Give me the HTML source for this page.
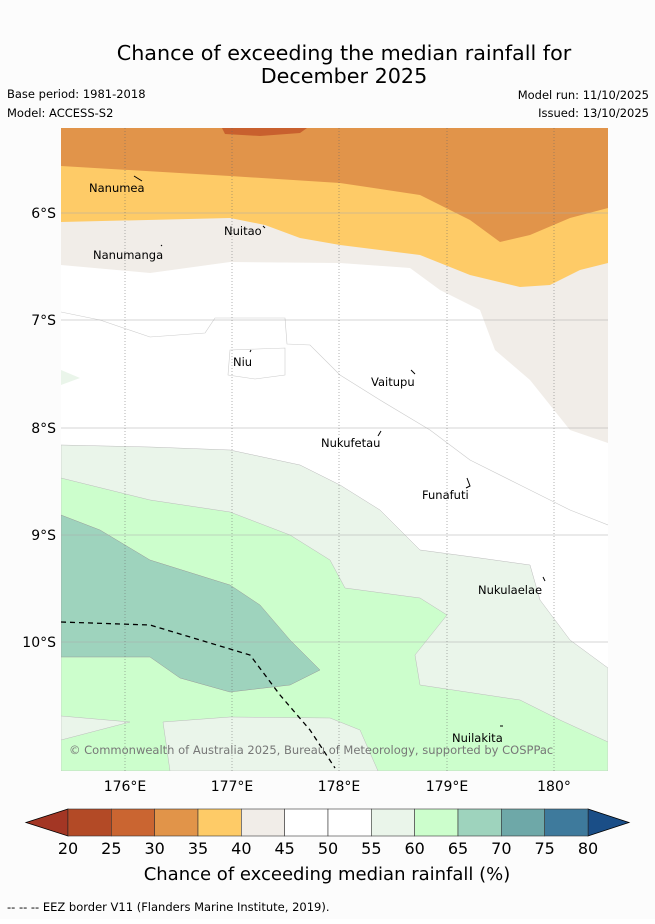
<!DOCTYPE html>
<html><head><meta charset="utf-8"><style>
body{margin:0;background:#fff;}
svg text{font-family:"DejaVu Sans","Liberation Sans",sans-serif;}
</style></head><body>
<svg width="655" height="919" viewBox="0 0 655 919" xmlns="http://www.w3.org/2000/svg">
<rect width="655" height="919" fill="#fcfcfc"/>
<text x="344" y="60" font-size="20.7" text-anchor="middle">Chance of exceeding the median rainfall for</text>
<text x="344" y="83" font-size="20.7" text-anchor="middle">December 2025</text>
<text x="7" y="98" font-size="11.5">Base period: 1981-2018</text>
<text x="7" y="117" font-size="11.5">Model: ACCESS-S2</text>
<text x="649" y="99" font-size="11.5" text-anchor="end">Model run: 11/10/2025</text>
<text x="649" y="117" font-size="11.5" text-anchor="end">Issued: 13/10/2025</text>
<defs><clipPath id="mc"><rect x="61" y="128" width="547" height="643"/></clipPath></defs>
<g clip-path="url(#mc)">
<rect x="61" y="128" width="547" height="643" fill="#e1944a"/>
<path d="M61,166 L230,176 L340,183 L420,195 L470,220 L500,242 L530,235 L570,218 L608,208 L608,771 L61,771Z" fill="#fecb67"/>
<path d="M61,222 L230,218 L265,225 L300,238 L340,245 L420,255 L470,275 L520,287 L550,285 L580,270 L608,263 L608,771 L61,771Z" fill="#f1ede8"/>
<path d="M61,265 L150,273 L230,262 L340,263 L410,268 L440,290 L480,310 L495,350 L530,380 L570,430 L608,443 L608,771 L61,771Z" fill="#ffffff"/>
<path d="M61,370 L80,378 L61,385Z" fill="#eaf5ea"/>
<path d="M61,312 L100,320 L150,337 L205,333 L215,318 L285,318 L287,344 L310,345 L340,375 L380,400 L430,430 L470,460 L520,485 L570,510 L608,525" fill="none" stroke="#ccc" stroke-width="0.6"/>
<path d="M230,350 L285,348 L285,375 L255,379 L228,375Z" fill="none" stroke="#ccc" stroke-width="0.6"/>
<path d="M61,445 L150,447 L230,450 L300,465 L340,485 L380,510 L420,550 L480,558 L530,565 L540,600 L570,640 L608,668 L608,771 L61,771Z" fill="#eaf5ea" stroke="#bbb" stroke-width="0.5"/>
<path d="M61,478 L150,500 L230,512 L290,535 L330,560 L345,588 L420,598 L447,615 L415,655 L420,685 L520,700 L560,720 L608,742 L608,771 L61,771Z" fill="#ccfecc" stroke="#bbb" stroke-width="0.5"/>
<path d="M61,515 L100,530 L150,560 L230,585 L260,605 L290,640 L320,670 L290,685 L230,692 L180,678 L150,657 L61,657Z" fill="#9ed3bd" stroke="#999" stroke-width="0.5"/>
<path d="M61,716 L130,722 L61,740Z" fill="#eaf5ea" stroke="#bbb" stroke-width="0.5"/>
<path d="M163,722 L230,717 L330,718 L360,730 L378,771 L170,771Z" fill="#eaf5ea" stroke="#bbb" stroke-width="0.5"/>
<path d="M222,128 L307,128 L300,133 L260,136 L225,134Z" fill="#c8602e"/>
<g stroke="#aaa" stroke-width="0.5">
<line x1="61" x2="608" y1="213" y2="213"/><line x1="61" x2="608" y1="320" y2="320"/><line x1="61" x2="608" y1="428" y2="428"/><line x1="61" x2="608" y1="535" y2="535"/><line x1="61" x2="608" y1="642" y2="642"/>
<g stroke-dasharray="1,2" stroke="#666"><line x1="125" x2="125" y1="128" y2="771"/><line x1="232" x2="232" y1="128" y2="771"/><line x1="339" x2="339" y1="128" y2="771"/><line x1="447" x2="447" y1="128" y2="771"/><line x1="554" x2="554" y1="128" y2="771"/></g>
</g>
<path d="M61,622 L150,625 L200,640 L250,655 L280,695 L310,730 L335,768" fill="none" stroke="#000" stroke-width="1.3" stroke-dasharray="5,4"/>
<g font-size="11.5">
<text x="89" y="192">Nanumea</text><text x="93" y="259">Nanumanga</text><text x="224" y="235">Nuitao</text><text x="233" y="366">Niu</text><text x="371" y="386">Vaitupu</text><text x="321" y="447">Nukufetau</text><text x="422" y="499">Funafuti</text><text x="478" y="594">Nukulaelae</text><text x="452" y="742">Nuilakita</text>
</g>
<g stroke="#000" stroke-width="1" fill="none"><path d="M134,176 L142,181"/><path d="M161,246 L162,245"/><path d="M263,226 L265,228"/><path d="M250,352 L251,350"/><path d="M411,370 L415,374"/><path d="M378,436 L381,431"/><path d="M467,478 L470,486 L466,488"/><path d="M543,577 L545,581"/><path d="M500,726 L503,726"/></g>
<text x="69" y="754" font-size="11.5" fill="#777">© Commonwealth of Australia 2025, Bureau of Meteorology, supported by COSPPac</text>
</g>
<g font-size="14">
<text x="56" y="218" text-anchor="end">6°S</text><text x="56" y="325" text-anchor="end">7°S</text><text x="56" y="433" text-anchor="end">8°S</text><text x="56" y="540" text-anchor="end">9°S</text><text x="56" y="647" text-anchor="end">10°S</text>
<text x="125" y="791" text-anchor="middle">176°E</text><text x="232" y="791" text-anchor="middle">177°E</text><text x="339" y="791" text-anchor="middle">178°E</text><text x="447" y="791" text-anchor="middle">179°E</text><text x="554" y="791" text-anchor="middle">180°</text>
</g>
<g id="cbar"></g>
<text x="327" y="880" font-size="18" text-anchor="middle">Chance of exceeding median rainfall (%)</text>
<text x="7" y="911" font-size="11.5">--  --  -- EEZ border V11 (Flanders Marine Institute, 2019).</text>
</svg>
<script>
const cbLevels=[20,25,30,35,40,45,50,55,60,65,70,75,80];
const cbColors=["#b34a26","#ca6531","#e19449","#fecb67","#f1ede8","#ffffff","#ffffff","#eaf5ea","#ccfecc","#9ed3bd","#6ea8a8","#3e7a9c"];
const cbUnder="#a33624", cbOver="#1a4e87";
const NS="http://www.w3.org/2000/svg";
const g=document.getElementById('cbar');
const x0=68,x1=588,y0=809,y1=836;
const sx=v=>x0+(v-cbLevels[0])/(cbLevels[cbLevels.length-1]-cbLevels[0])*(x1-x0);
function mk(t,a){const e=document.createElementNS(NS,t);for(const k in a)e.setAttribute(k,a[k]);g.appendChild(e);return e;}
let p=mk('polygon',{points:`${x0},${y0} 26,${(y0+y1)/2} ${x0},${y1}`,fill:cbUnder,stroke:'#000','stroke-width':0.8});


p=mk('polygon',{points:`${x1},${y0} 629,${(y0+y1)/2} ${x1},${y1}`,fill:cbOver,stroke:'#000','stroke-width':0.8});


cbColors.forEach((c,i)=>{
 const r=mk('rect',{x:sx(cbLevels[i]),y:y0,width:sx(cbLevels[i+1])-sx(cbLevels[i]),height:y1-y0,fill:c,stroke:'#333','stroke-width':0.6});
 
 
});
cbLevels.forEach(v=>{
 const t=mk('text',{x:sx(v),y:854,'font-size':16,'text-anchor':'middle'});
 t.textContent=v;
 
 
});
</script>
</body></html>
